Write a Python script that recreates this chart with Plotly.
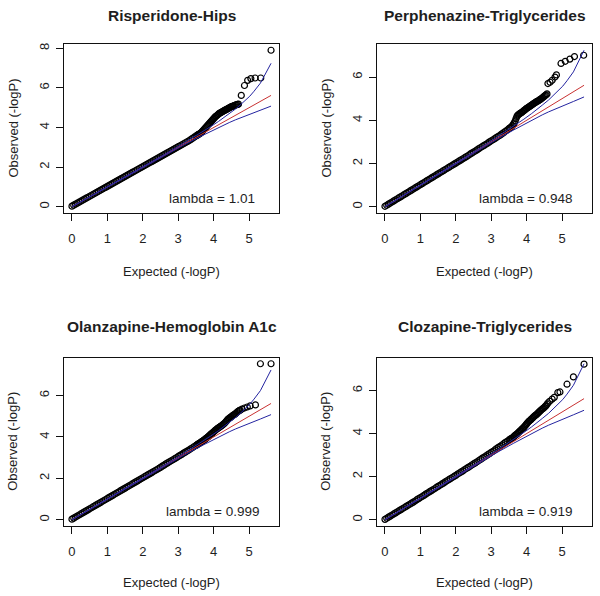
import plotly.graph_objects as go

# ---------------- data ----------------
TITLES = ["Risperidone-Hips", "Perphenazine-Triglycerides",
          "Olanzapine-Hemoglobin A1c", "Clozapine-Triglycerides"]
LAMBDAS = ["1.01", "0.948", "0.999", "0.919"]
X_TICKS = [0, 1, 2, 3, 4, 5]
Y_TICKS = [[0, 2, 4, 6, 8], [0, 2, 4, 6], [0, 2, 4, 6], [0, 2, 4, 6]]

# expected -log10(P) for the dense body of each QQ plot
EXP_BODY = [0.00, 0.05, 0.10, 0.15, 0.20, 0.25, 0.30, 0.35, 0.40, 0.45, 0.50, 0.55, 0.60, 0.65,
            0.70, 0.75, 0.80, 0.85, 0.90, 0.95, 1.00, 1.05, 1.10, 1.15, 1.20, 1.25, 1.30, 1.35,
            1.40, 1.45, 1.50, 1.55, 1.60, 1.65, 1.70, 1.75, 1.80, 1.85, 1.90, 1.95, 2.00, 2.05,
            2.10, 2.15, 2.20, 2.25, 2.30, 2.35, 2.40, 2.45, 2.50, 2.55, 2.60, 2.65, 2.70, 2.75,
            2.80, 2.85, 2.90, 2.95, 3.00, 3.05, 3.10, 3.15, 3.20, 3.25, 3.30, 3.35, 3.40, 3.45,
            3.50]

OBS_BODY_1 = [0.03, 0.08, 0.13, 0.18, 0.23, 0.28, 0.33, 0.38, 0.43, 0.48, 0.53, 0.58, 0.63, 0.68,
              0.73, 0.78, 0.83, 0.88, 0.93, 0.98, 1.03, 1.08, 1.13, 1.18, 1.23, 1.28, 1.33, 1.38,
              1.43, 1.48, 1.53, 1.58, 1.63, 1.68, 1.73, 1.78, 1.83, 1.88, 1.93, 1.98, 2.03, 2.08,
              2.13, 2.18, 2.23, 2.28, 2.33, 2.38, 2.43, 2.48, 2.53, 2.58, 2.63, 2.68, 2.73, 2.78,
              2.83, 2.88, 2.93, 2.98, 3.03, 3.08, 3.13, 3.18, 3.23, 3.28, 3.33, 3.39, 3.45, 3.51,
              3.57]
OBS_BODY_2 = [0.02, 0.07, 0.12, 0.17, 0.22, 0.27, 0.32, 0.37, 0.42, 0.47, 0.52, 0.57, 0.62, 0.67,
              0.72, 0.77, 0.82, 0.87, 0.92, 0.97, 1.02, 1.07, 1.12, 1.17, 1.22, 1.27, 1.32, 1.37,
              1.42, 1.47, 1.52, 1.57, 1.62, 1.67, 1.72, 1.77, 1.82, 1.87, 1.92, 1.97, 2.02, 2.07,
              2.12, 2.17, 2.22, 2.27, 2.32, 2.37, 2.43, 2.48, 2.53, 2.58, 2.63, 2.69, 2.74, 2.79,
              2.84, 2.89, 2.94, 3.00, 3.05, 3.10, 3.15, 3.21, 3.26, 3.31, 3.37, 3.43, 3.49, 3.55,
              3.62]
OBS_BODY_3 = [0.03, 0.08, 0.13, 0.18, 0.23, 0.28, 0.33, 0.38, 0.43, 0.48, 0.53, 0.58, 0.63, 0.68,
              0.73, 0.78, 0.83, 0.88, 0.93, 0.98, 1.03, 1.08, 1.13, 1.18, 1.23, 1.28, 1.33, 1.38,
              1.43, 1.48, 1.53, 1.58, 1.63, 1.68, 1.73, 1.78, 1.83, 1.88, 1.93, 1.98, 2.03, 2.08,
              2.13, 2.18, 2.23, 2.28, 2.33, 2.38, 2.43, 2.48, 2.53, 2.59, 2.64, 2.70, 2.75, 2.80,
              2.85, 2.90, 2.95, 3.00, 3.06, 3.11, 3.16, 3.22, 3.27, 3.32, 3.37, 3.43, 3.48, 3.54,
              3.59]
OBS_BODY_4 = [0.02, 0.07, 0.12, 0.17, 0.22, 0.27, 0.32, 0.37, 0.42, 0.47, 0.52, 0.57, 0.62, 0.67,
              0.72, 0.77, 0.82, 0.87, 0.93, 0.98, 1.03, 1.08, 1.13, 1.19, 1.24, 1.29, 1.34, 1.39,
              1.44, 1.50, 1.55, 1.60, 1.65, 1.70, 1.76, 1.81, 1.86, 1.91, 1.96, 2.01, 2.06, 2.12,
              2.17, 2.22, 2.27, 2.33, 2.38, 2.43, 2.48, 2.54, 2.59, 2.64, 2.69, 2.75, 2.80, 2.86,
              2.91, 2.96, 3.02, 3.07, 3.13, 3.18, 3.24, 3.30, 3.36, 3.41, 3.47, 3.53, 3.59, 3.64,
              3.70]

EXP_TAIL_1 = [3.525, 3.55, 3.575, 3.6, 3.625, 3.65, 3.675, 3.7, 3.725, 3.75, 3.775, 3.8, 3.825,
              3.85, 3.875, 3.9, 3.925, 3.95, 3.975, 4.0, 4.025, 4.05, 4.075, 4.1, 4.125, 4.15,
              4.175, 4.2, 4.225, 4.25, 4.275, 4.3, 4.325, 4.35, 4.375, 4.4, 4.425, 4.45, 4.475,
              4.5, 4.525, 4.55, 4.575, 4.6, 4.625, 4.65, 4.675, 4.7,
              4.78, 4.87, 4.96, 5.05, 5.17, 5.33, 5.62]
OBS_TAIL_1 = [3.60, 3.63, 3.66, 3.68, 3.71, 3.75, 3.80, 3.85, 3.90, 3.95, 4.00, 4.05, 4.10,
              4.15, 4.20, 4.25, 4.30, 4.35, 4.40, 4.45, 4.50, 4.55, 4.58, 4.62, 4.66, 4.70,
              4.73, 4.75, 4.78, 4.80, 4.83, 4.86, 4.88, 4.90, 4.93, 4.95, 4.98, 5.00, 5.03,
              5.05, 5.07, 5.08, 5.10, 5.12, 5.14, 5.15, 5.17, 5.18,
              5.62, 6.12, 6.38, 6.47, 6.50, 6.50, 7.90]

EXP_TAIL_2 = [3.525, 3.55, 3.575, 3.6, 3.625, 3.65, 3.675, 3.7, 3.725, 3.75, 3.775, 3.8, 3.825,
              3.85, 3.875, 3.9, 3.925, 3.95, 3.975, 4.0, 4.025, 4.05, 4.075, 4.1, 4.125, 4.15,
              4.175, 4.2, 4.225, 4.25, 4.275, 4.3, 4.325, 4.35, 4.375, 4.4, 4.425, 4.45, 4.475,
              4.5, 4.525, 4.55, 4.575,
              4.6, 4.66, 4.72, 4.8, 4.84, 4.97, 5.09, 5.22, 5.35, 5.61]
OBS_TAIL_2 = [3.64, 3.67, 3.71, 3.76, 3.82, 3.88, 3.97, 4.08, 4.18, 4.24, 4.27, 4.30, 4.33,
              4.35, 4.38, 4.42, 4.45, 4.48, 4.52, 4.55, 4.58, 4.60, 4.63, 4.66, 4.69, 4.72,
              4.75, 4.78, 4.80, 4.83, 4.86, 4.88, 4.90, 4.93, 4.96, 4.98, 5.02, 5.05, 5.08,
              5.12, 5.15, 5.18, 5.22,
              5.70, 5.76, 5.85, 6.00, 6.10, 6.63, 6.73, 6.83, 6.95, 7.01]

EXP_TAIL_3 = [3.525, 3.55, 3.575, 3.6, 3.625, 3.65, 3.675, 3.7, 3.725, 3.75, 3.775, 3.8, 3.825,
              3.85, 3.875, 3.9, 3.925, 3.95, 3.975, 4.0, 4.025, 4.05, 4.075, 4.1, 4.125, 4.15,
              4.175, 4.2, 4.225, 4.25, 4.275, 4.3, 4.325, 4.35, 4.375, 4.4, 4.425, 4.45, 4.475,
              4.5, 4.525, 4.55, 4.575, 4.6, 4.625, 4.65, 4.675, 4.7, 4.725, 4.75,
              4.8, 4.87, 4.95, 5.03, 5.18, 5.32, 5.62]
OBS_TAIL_3 = [3.62, 3.65, 3.68, 3.70, 3.73, 3.76, 3.79, 3.82, 3.85, 3.88, 3.92, 3.95, 3.99,
              4.02, 4.06, 4.10, 4.14, 4.18, 4.21, 4.25, 4.29, 4.33, 4.36, 4.40, 4.43, 4.46,
              4.49, 4.52, 4.55, 4.58, 4.62, 4.65, 4.70, 4.75, 4.80, 4.85, 4.89, 4.92, 4.95,
              4.98, 5.02, 5.05, 5.08, 5.10, 5.14, 5.18, 5.22, 5.25, 5.28, 5.30,
              5.35, 5.40, 5.45, 5.50, 5.55, 7.54, 7.54]

EXP_TAIL_4 = [3.525, 3.55, 3.575, 3.6, 3.625, 3.65, 3.675, 3.7, 3.725, 3.75, 3.775, 3.8, 3.825,
              3.85, 3.875, 3.9, 3.925, 3.95, 3.975, 4.0, 4.025, 4.05, 4.075, 4.1, 4.125, 4.15,
              4.175, 4.2, 4.225, 4.25, 4.275, 4.3, 4.325, 4.35, 4.375, 4.4, 4.425, 4.45, 4.475,
              4.5, 4.525, 4.55, 4.575,
              4.6, 4.65, 4.72, 4.78, 4.88, 4.94, 5.14, 5.32, 5.62]
OBS_TAIL_4 = [3.73, 3.76, 3.78, 3.80, 3.84, 3.88, 3.92, 3.95, 3.98, 4.02, 4.06, 4.10, 4.14,
              4.18, 4.22, 4.25, 4.30, 4.35, 4.40, 4.45, 4.50, 4.55, 4.58, 4.62, 4.66, 4.70,
              4.74, 4.78, 4.82, 4.85, 4.88, 4.92, 4.96, 5.00, 5.04, 5.08, 5.12, 5.15, 5.18,
              5.22, 5.26, 5.30, 5.36,
              5.42, 5.50, 5.60, 5.68, 5.90, 5.93, 6.29, 6.63, 7.22]

# null line and 95% confidence band (shared by all panels)
NULL_X = [0.0, 5.62]
NULL_Y = [0.0, 5.62]
CI_EXP = [0.0, 0.62, 1.62, 2.62, 3.14, 3.62, 3.92, 4.14, 4.32, 4.44, 4.62, 4.77, 4.92, 5.02,
          5.14, 5.32, 5.62]
CI_UP = [0.0, 0.623, 1.63, 2.65, 3.20, 3.71, 4.05, 4.31, 4.53, 4.70, 4.94, 5.17, 5.41, 5.58,
         5.83, 6.24, 7.24]
CI_LO = [0.0, 0.617, 1.61, 2.59, 3.10, 3.54, 3.81, 4.00, 4.15, 4.25, 4.39, 4.50, 4.61, 4.68,
         4.76, 4.87, 5.08]

PANELS = [
    (EXP_BODY + EXP_TAIL_1, OBS_BODY_1 + OBS_TAIL_1),
    (EXP_BODY + EXP_TAIL_2, OBS_BODY_2 + OBS_TAIL_2),
    (EXP_BODY + EXP_TAIL_3, OBS_BODY_3 + OBS_TAIL_3),
    (EXP_BODY + EXP_TAIL_4, OBS_BODY_4 + OBS_TAIL_4),
]

# ---------------- layout (pixels) ----------------
W, H = 600, 596
BOXES = [  # left, right, top, bottom
    (64, 279, 44, 213),
    (377, 592, 44, 213),
    (64, 279, 357.5, 526),
    (377, 592, 357.5, 526),
]
TITLE_Y = [15, 15, 326.5, 326.5]
XLAB_Y = [271.5, 271.5, 582, 582]
YLAB_X = [13, 326, 13, 326]

FONT = "Liberation Sans, Arial, sans-serif"
TXT = "#1e1e1e"
RED = "#c83232"
BLUE = "#2424a0"


def fx(p):
    return p / W


def fy(p):
    return 1 - p / H


fig = go.Figure()
annotations = []
layout_axes = {}

for i, ((ex, ob), (l, r, t, b)) in enumerate(zip(PANELS, BOXES)):
    n = i + 1
    xa = "x" if n == 1 else f"x{n}"
    ya = "y" if n == 1 else f"y{n}"

    fig.add_trace(go.Scatter(
        x=ex, y=ob, mode="markers", xaxis=xa, yaxis=ya,
        marker=dict(symbol="circle-open", size=6, color="black",
                    line=dict(width=1.2, color="black")),
        showlegend=False, hoverinfo="skip"))
    fig.add_trace(go.Scatter(
        x=NULL_X, y=NULL_Y, mode="lines", xaxis=xa, yaxis=ya,
        line=dict(color=RED, width=1), showlegend=False, hoverinfo="skip"))
    fig.add_trace(go.Scatter(
        x=CI_EXP, y=CI_UP, mode="lines", xaxis=xa, yaxis=ya,
        line=dict(color=BLUE, width=1), showlegend=False, hoverinfo="skip"))
    fig.add_trace(go.Scatter(
        x=CI_EXP, y=CI_LO, mode="lines", xaxis=xa, yaxis=ya,
        line=dict(color=BLUE, width=1), showlegend=False, hoverinfo="skip"))

    # R-style 4% axis extension from the data extents
    xmax = max(max(ex), max(NULL_X), max(CI_EXP))
    ymax = max(max(ob), max(CI_UP))
    xr = [-0.04 * xmax, xmax * 1.04]
    yr = [-0.04 * ymax, ymax * 1.04]

    axcommon = dict(showgrid=False, zeroline=False, showline=True, mirror=True,
                    linecolor="#111111", linewidth=1, ticks="outside", ticklen=7,
                    tickwidth=1, tickcolor="#111111",
                    tickfont=dict(family=FONT, size=13, color=TXT))
    kx = "xaxis" if n == 1 else f"xaxis{n}"
    ky = "yaxis" if n == 1 else f"yaxis{n}"
    layout_axes[kx] = dict(axcommon, domain=[fx(l), fx(r)], range=xr, anchor=ya,
                           tickmode="array", tickvals=X_TICKS, ticklabelstandoff=6)
    layout_axes[ky] = dict(axcommon, domain=[fy(b), fy(t)], range=yr, anchor=xa,
                           tickmode="array", tickvals=Y_TICKS[i], tickangle=-90,
                           ticklabelstandoff=2)

    cx = (l + r) / 2
    annotations.append(dict(text=f"<b>{TITLES[i]}</b>", x=fx(cx), y=fy(TITLE_Y[i]),
                            xref="paper", yref="paper", showarrow=False,
                            xanchor="center", yanchor="middle",
                            font=dict(family=FONT, size=15.5, color=TXT)))
    annotations.append(dict(text="Expected (-logP)", x=fx(cx), y=fy(XLAB_Y[i]),
                            xref="paper", yref="paper", showarrow=False,
                            xanchor="center", yanchor="middle",
                            font=dict(family=FONT, size=13, color=TXT)))
    annotations.append(dict(text="Observed (-logP)", x=fx(YLAB_X[i]), y=fy((t + b) / 2),
                            xref="paper", yref="paper", showarrow=False, textangle=-90,
                            xanchor="center", yanchor="middle",
                            font=dict(family=FONT, size=13, color=TXT)))
    annotations.append(dict(text=f"lambda = {LAMBDAS[i]}", x=0.69, y=0.088,
                            xref=f"{xa} domain", yref=f"{ya} domain", showarrow=False,
                            xanchor="center", yanchor="middle",
                            font=dict(family=FONT, size=13.5, color=TXT)))

fig.update_layout(
    width=W, height=H, margin=dict(l=0, r=0, t=0, b=0),
    paper_bgcolor="white", plot_bgcolor="white",
    annotations=annotations, **layout_axes)

fig.write_html("out.html",
               config={"displayModeBar": False},
               post_script="document.body.style.margin='0px';document.body.style.padding='0px';")
